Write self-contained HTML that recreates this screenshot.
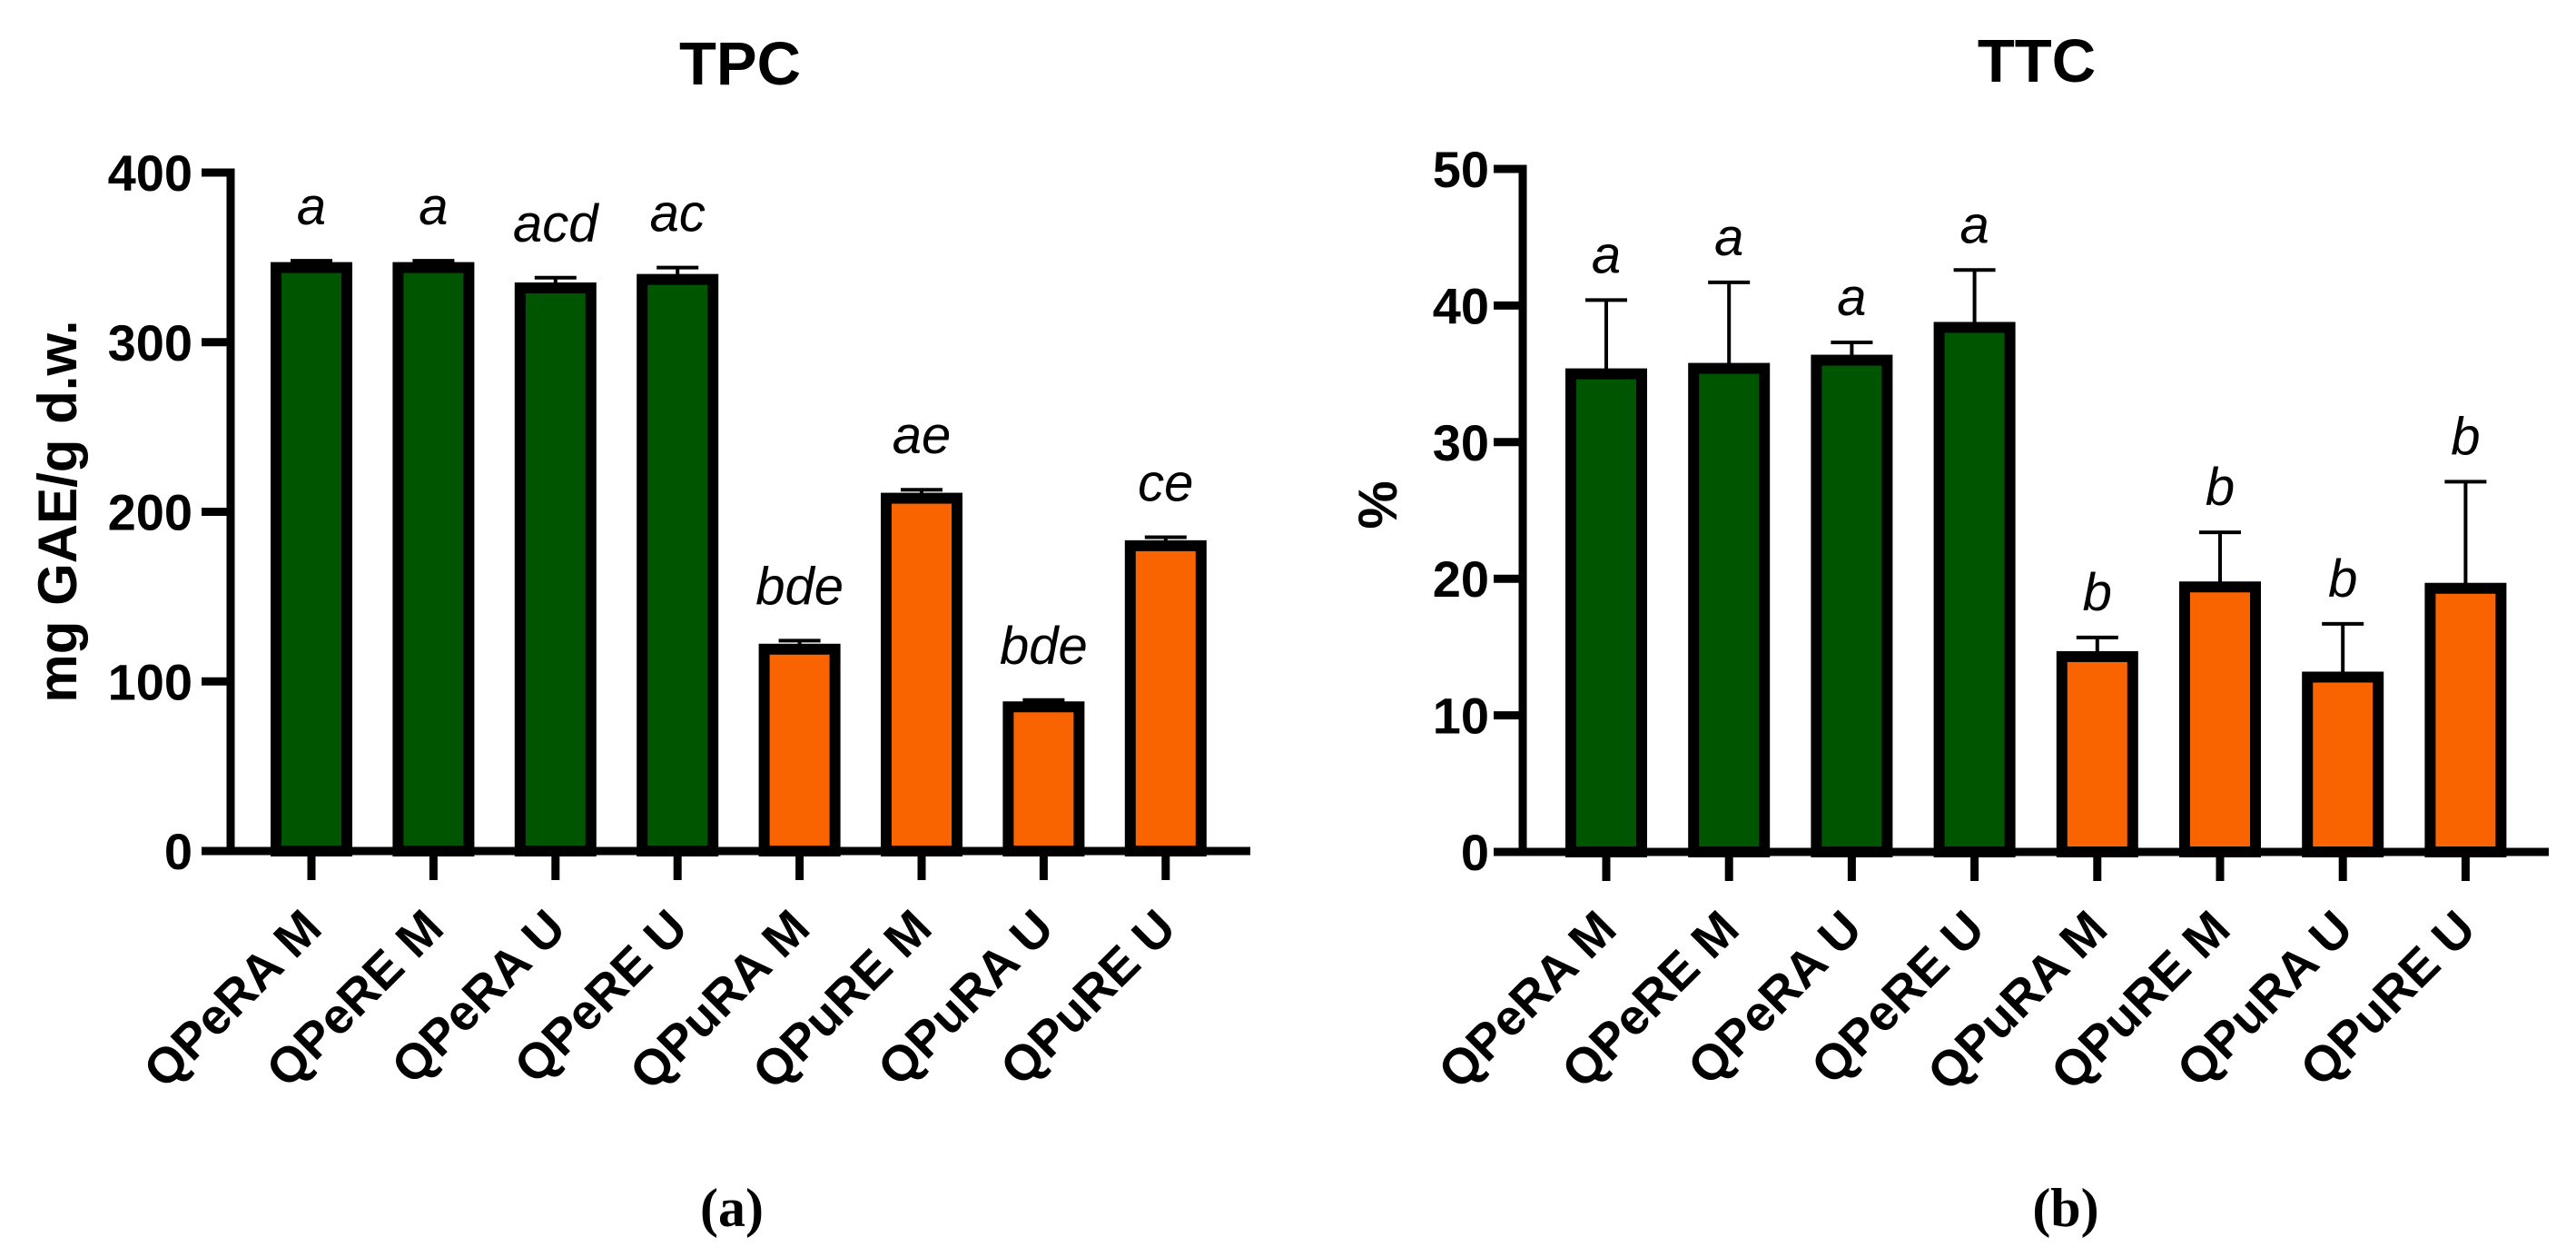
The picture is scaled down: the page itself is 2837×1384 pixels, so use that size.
<!DOCTYPE html>
<html><head><meta charset="utf-8"><style>
html,body{margin:0;padding:0;background:#fff;}
svg{display:block;}
text{font-family:"Liberation Sans",Arial,sans-serif;}
</style></head><body>
<svg id="fig" width="2837" height="1384" viewBox="0 0 2837 1384" xmlns="http://www.w3.org/2000/svg"></svg>
<script>
const categories = ["QPeRA M","QPeRE M","QPeRA U","QPeRE U","QPuRA M","QPuRE M","QPuRA U","QPuRE U"];
const groupColors = ["#005500","#005500","#005500","#005500","#f96300","#f96300","#f96300","#f96300"];
const tpcValues = [344, 344, 332, 337, 119, 208, 85, 180];
const tpcErrors = [348, 348, 338, 344, 124, 213, 89, 185];
const tpcLetters = ["a","a","acd","ac","bde","ae","bde","ce"];
const tpcTicks = [0, 100, 200, 300, 400];
const ttcValues = [35.0, 35.4, 36.0, 38.4, 14.3, 19.4, 12.8, 19.3];
const ttcErrors = [40.4, 41.7, 37.3, 42.6, 15.7, 23.4, 16.7, 27.1];
const ttcLetters = ["a","a","a","a","b","b","b","b"];
const ttcTicks = [0, 10, 20, 30, 40, 50];

const NS = "http://www.w3.org/2000/svg";
const svg = document.getElementById('fig');
function mk(tag, attrs, parent, txt){
  const e = document.createElementNS(NS, tag);
  for (const k in attrs) e.setAttribute(k, attrs[k]);
  if (txt !== undefined) e.textContent = txt;
  (parent || svg).appendChild(e);
  return e;
}

function drawChart(cfg){
  const g = mk('g', {});
  
  
  const yS = v => cfg.y0 - (v - cfg.min) / (cfg.max - cfg.min) * (cfg.y0 - cfg.yTop);
  const xS = i => cfg.x0 + cfg.step * i;

  const t = mk('text', {x: cfg.titleX, y: cfg.titleY, 'font-size': 67, 'font-weight': 'bold', 'text-anchor': 'middle'}, g, cfg.title);
  
  

  const yl = mk('text', {x: 0, y: 0, 'font-size': cfg.ylSize, 'font-weight': 'bold', 'text-anchor': 'middle', transform: `translate(${cfg.ylX},${cfg.ylY}) rotate(-90)`}, g, cfg.ylabel);
  
  

  categories.forEach((c, i) => {
    const cx = xS(i);
    const top = yS(cfg.values[i]);
    const err = yS(cfg.errors[i]);
    const eb = mk('line', {x1: cx, x2: cx, y1: err, y2: top, stroke: '#000', 'stroke-width': 4}, g);
    
    
    const cap = mk('line', {x1: cx - 23, x2: cx + 23, y1: err, y2: err, stroke: '#000', 'stroke-width': 4}, g);
    
    
    const r = mk('rect', {x: cx - 39, y: top, width: 78, height: cfg.y0 - top, fill: groupColors[i], stroke: '#000', 'stroke-width': 12}, g);
    
    
    const lt = mk('text', {x: cx, y: err - cfg.letterGap, 'font-size': 58, 'font-style': 'italic', 'text-anchor': 'middle'}, g, cfg.letters[i]);
    
    
    const tk = mk('line', {x1: cx, x2: cx, y1: cfg.y0, y2: cfg.y0 + 32, stroke: '#000', 'stroke-width': 9}, g);
    
    
    const xl = mk('text', {x: 0, y: 0, 'font-size': 55, 'font-weight': 'bold', 'text-anchor': 'end', transform: `translate(${cx + 14},${cfg.y0 + 88}) rotate(-45)`}, g, c);
    
    
  });

  const ya = mk('line', {x1: cfg.axX, x2: cfg.axX, y1: cfg.yTop - 4.5, y2: cfg.y0 + 4.5, stroke: '#000', 'stroke-width': 9}, g);
  
  
  const xa = mk('line', {x1: cfg.axX - 32, x2: cfg.xEnd, y1: cfg.y0, y2: cfg.y0, stroke: '#000', 'stroke-width': 9}, g);
  
  
  cfg.ticks.forEach(v => {
    const y = yS(v);
    const tk = mk('line', {x1: cfg.axX - 32, x2: cfg.axX, y1: y, y2: y, stroke: '#000', 'stroke-width': 9}, g);
    
    
    const tl = mk('text', {x: cfg.axX - 32 - cfg.tickGap, y: y + 20, 'font-size': 56, 'font-weight': 'bold', 'text-anchor': 'end'}, g, String(v));
    
    
  });

  const cap = mk('text', {x: cfg.capX, y: 1350, 'font-size': 60, 'font-weight': 'bold', 'text-anchor': 'middle', style: 'font-family:"Liberation Serif",serif'}, g, cfg.caption);
  
  
}

drawChart({name: 'tpc-chart', title: 'TPC', titleX: 815, titleY: 93, ylabel: 'mg GAE/g d.w.', ylX: 84, ylY: 563, ylSize: 60,
  values: tpcValues, errors: tpcErrors, letters: tpcLetters, ticks: tpcTicks, min: 0, max: 400,
  y0: 937, yTop: 190, x0: 343, step: 134.4, axX: 254, xEnd: 1377, tickGap: 10, letterGap: 40, capX: 806, caption: '(a)'});

drawChart({name: 'ttc-chart', title: 'TTC', titleX: 2243, titleY: 90, ylabel: '%', ylX: 1538, ylY: 556, ylSize: 60,
  values: ttcValues, errors: ttcErrors, letters: ttcLetters, ticks: ttcTicks, min: 0, max: 50,
  y0: 938, yTop: 186, x0: 1769, step: 135.2, axX: 1677, xEnd: 2807, tickGap: 5, letterGap: 30, capX: 2275, caption: '(b)'});
</script>
</body></html>
